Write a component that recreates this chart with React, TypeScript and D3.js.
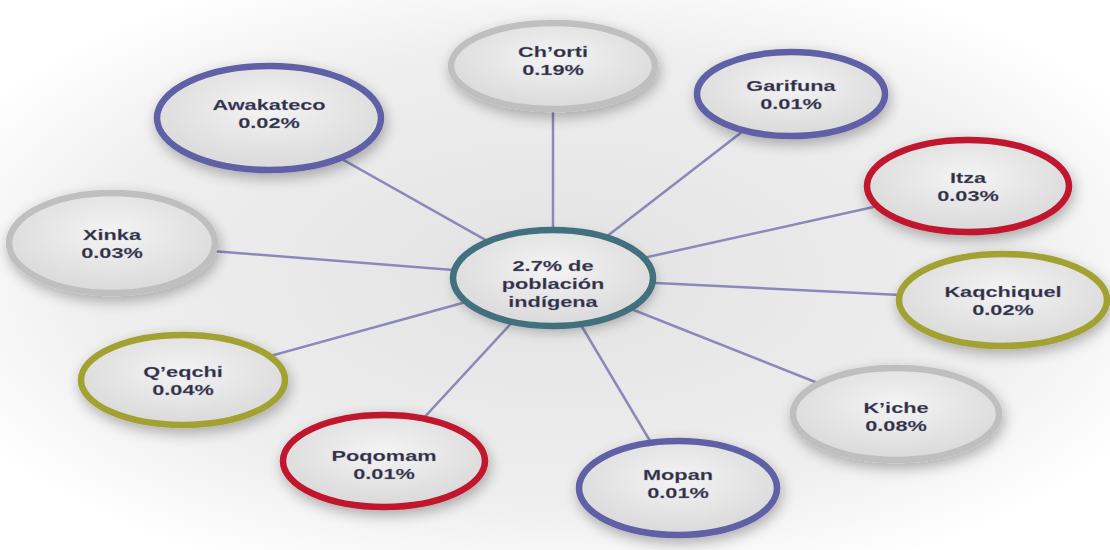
import React from "react";
import * as d3 from "d3";

const names = ["Ch’orti", "Garifuna", "Itza", "Kaqchiquel", "K’iche", "Mopan", "Poqomam", "Q’eqchi", "Xinka", "Awakateco"];
const values = [0.19, 0.01, 0.03, 0.02, 0.08, 0.01, 0.01, 0.04, 0.03, 0.02];
const colorGroups = ["gray", "blue", "red", "olive", "gray", "blue", "red", "olive", "gray", "blue"];
const centerLabel = ["2.7% de", "población", "indígena"];

// layout (pixel positions of nodes and their label baselines)
const layout = [
  { x: 553, y: 66, rx: 102, ry: 43, ly: 57 },
  { x: 791, y: 94, rx: 94, ry: 42, ly: 91 },
  { x: 968, y: 186, rx: 101, ry: 46, ly: 183 },
  { x: 1003, y: 300, rx: 104, ry: 46, ly: 297 },
  { x: 896, y: 414, rx: 103, ry: 46, ly: 413 },
  { x: 678, y: 488, rx: 99, ry: 47, ly: 480 },
  { x: 384, y: 461, rx: 101, ry: 46, ly: 461 },
  { x: 183, y: 380, rx: 102, ry: 45, ly: 377 },
  { x: 112, y: 243, rx: 103, ry: 50, ly: 240 },
  { x: 269, y: 118, rx: 112, ry: 52, ly: 110 },
];
const centerNode = { x: 553, y: 278, rx: 100, ry: 48, ly: 271 };

const colorScale = d3
  .scaleOrdinal<string, string>()
  .domain(["gray", "blue", "red", "olive"])
  .range(["#bfbfbf", "#5f60a6", "#c0172f", "#a2a233"]);

const fmt = (v: number) => d3.format(".2f")(v) + "%";

const FONT = "Liberation Sans, Arial, sans-serif";
const TEXT_FILL = "#2f2f40";

function Label({ x, y, text, size }: { x: number; y: number; text: string; size: number }) {
  return (
    <g transform={`translate(${x},${y}) scale(1.45,1)`}>
      <text
        x={0}
        y={0}
        textAnchor="middle"
        fontFamily={FONT}
        fontWeight="bold"
        fontSize={size}
        fill={TEXT_FILL}
        stroke="#8a8ab0"
        strokeWidth={0.4}
        strokeOpacity={0.6}
      >
        {text}
      </text>
    </g>
  );
}

export default function App() {
  return (
    <svg width={1110} height={550} style={{ position: "absolute", left: 0, top: 0 }}>
      <defs>
        <radialGradient id="bg" cx="50%" cy="50%" r="60%">
          <stop offset="0%" stopColor="#e2e2e2" />
          <stop offset="70%" stopColor="#efefef" />
          <stop offset="100%" stopColor="#ffffff" />
        </radialGradient>
        <radialGradient id="nodeFill" cx="50%" cy="40%" r="60%">
          <stop offset="0%" stopColor="#f4f4f4" />
          <stop offset="100%" stopColor="#d9d9d9" />
        </radialGradient>
        <filter id="shadow" x="-30%" y="-30%" width="160%" height="160%">
          <feGaussianBlur in="SourceAlpha" stdDeviation="7" />
          <feOffset dx="2" dy="5" result="b" />
          <feComponentTransfer>
            <feFuncA type="linear" slope="0.3" />
          </feComponentTransfer>
          <feMerge>
            <feMergeNode />
            <feMergeNode in="SourceGraphic" />
          </feMerge>
        </filter>
      </defs>
      <rect width={1110} height={550} fill="url(#bg)" />
      {layout.map((n, i) => (
        <line
          key={"l" + i}
          x1={centerNode.x}
          y1={centerNode.y}
          x2={n.x}
          y2={n.y}
          stroke="#8b89b9"
          strokeWidth={2.5}
        />
      ))}
      {layout.map((n, i) => (
        <g key={"n" + i}>
          <ellipse
            cx={n.x}
            cy={n.y}
            rx={n.rx}
            ry={n.ry}
            fill="url(#nodeFill)"
            stroke={colorScale(colorGroups[i])}
            strokeWidth={6.5}
            filter="url(#shadow)"
          />
          <Label x={n.x} y={n.ly} text={names[i]} size={15} />
          <Label x={n.x} y={n.ly + 18} text={fmt(values[i])} size={15} />
        </g>
      ))}
      <g>
        <ellipse
          cx={centerNode.x}
          cy={centerNode.y}
          rx={centerNode.rx}
          ry={centerNode.ry}
          fill="url(#nodeFill)"
          filter="url(#shadow)"
        />
        {centerLabel.map((t, i) => (
          <Label key={t} x={centerNode.x} y={centerNode.ly + i * 18} text={t} size={15} />
        ))}
        <ellipse
          cx={centerNode.x}
          cy={centerNode.y}
          rx={centerNode.rx}
          ry={centerNode.ry}
          fill="none"
          stroke="#43707f"
          strokeWidth={6.5}
        />
      </g>
    </svg>
  );
}
